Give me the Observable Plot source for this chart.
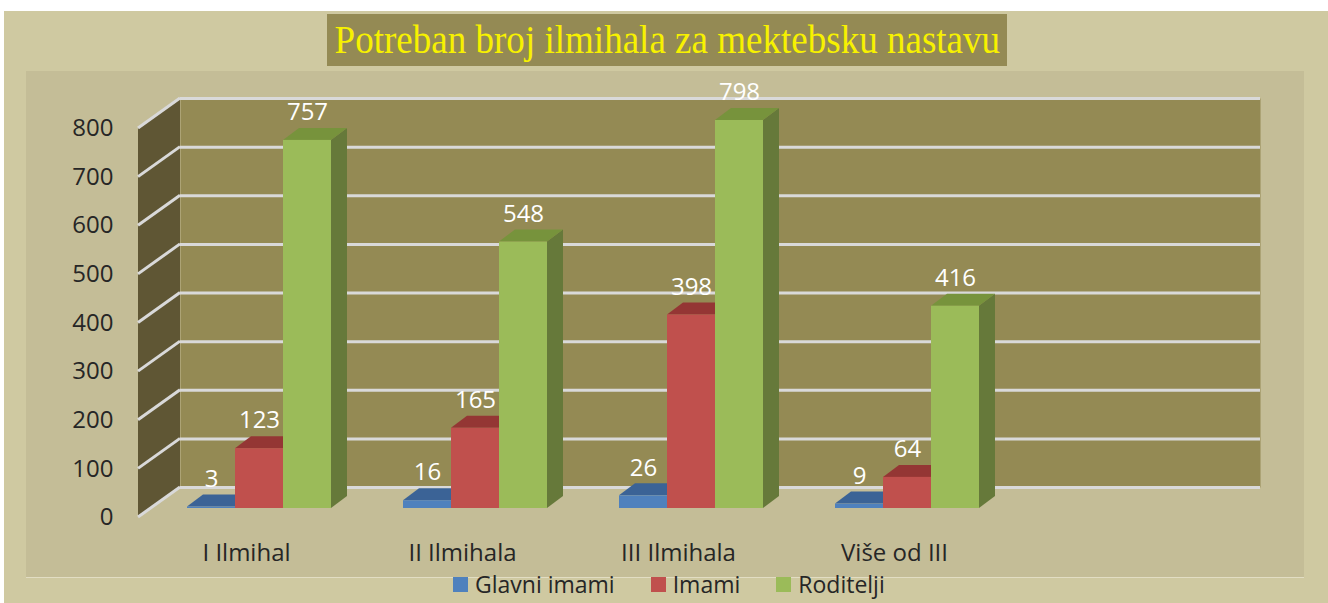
<!DOCTYPE html>
<html>
<head>
<meta charset="utf-8">
<script src="https://cdn.jsdelivr.net/npm/d3@7"></script>
<script src="https://cdn.jsdelivr.net/npm/@observablehq/plot@0.6"></script>
<style>
  body { margin: 0; background: #ffffff; }
  #page { position: relative; width: 1328px; height: 603px; overflow: hidden; font-family: "Open Sans", sans-serif; }
  #frame { position: absolute; left: 4px; top: 11px; right: 0; bottom: 0; background: #cfc9a1; }
  #panel { position: absolute; left: 26px; top: 71px; width: 1278px; height: 506px; background: #c4bd97; border-bottom: 1px solid #e2ddc3; }
  #title { position: absolute; left: 327px; top: 14px; width: 680px; height: 52px; background: #948a54;
           display: flex; justify-content: center; align-items: flex-start;
           font-family: "Liberation Serif", "Times New Roman", serif; font-size: 40px; line-height: 52px; color: #f7f100; white-space: nowrap; }
  #title span { display: inline-block; flex: none; transform: scaleX(0.926); transform-origin: center; }
  #chart { position: absolute; left: 0; top: 71px; width: 1328px; }
  #legend { position: absolute; left: 453px; top: 572px; display: flex; align-items: center; font-size: 23px; line-height: 24px; color: #262626; }
  #legend .item { display: flex; align-items: center; margin-right: 36px; }
  #legend .sw { width: 15px; height: 15px; margin-right: 7px; }
</style>
</head>
<body>
<div id="page">
  <div id="frame"></div>
  <div id="panel"></div>
  <div id="title"><span>Potreban broj ilmihala za mektebsku nastavu</span></div>
  <div id="chart"></div>
  <div id="legend"></div>
</div>
<script>
// ---- data ----
const categories = ["I Ilmihal", "II Ilmihala", "III Ilmihala", "Više od III"];
const series = ["Glavni imami", "Imami", "Roditelji"];
const glavniImami = [3, 16, 26, 9];
const imami = [123, 165, 398, 64];
const roditelji = [757, 548, 798, 416];
const yTicks = [0, 100, 200, 300, 400, 500, 600, 700, 800];

// ---- styles ----
const frontColors = ["#4f81bd", "#c0504d", "#9bbb59"];
const topColors = ["#3b6396", "#943634", "#77933c"];
const sideColors = ["#385d8a", "#8b3532", "#66793a"];

const valuesBySeries = [glavniImami, imami, roditelji];
const rows = series.flatMap((s, si) =>
  categories.map((c, ci) => ({category: c, series: s, si, value: valuesBySeries[si][ci]})));

const W = 1328, H = 507, ML = 138, MR = 110, MT = 57, MB = 61;
const xDomain = [...categories, ""];           // one empty slot on the right, as in the original
const band = (W - ML - MR) / xDomain.length;
const WALL = {dx: 42, dy: 30};
const BAR = {w: 48, inset: 36, dx: 13, dy: 9, depthX: 16, depthY: 12};
const GRID = "#d9d9d9";

function barOpts(si) {
  const left = BAR.inset + BAR.w * si;
  return {insetLeft: left, insetRight: band - left - BAR.w, dx: BAR.dx, dy: -BAR.dy};
}

// side wall (left) with its diagonal grid lines
function sideWall(index, scales) {
  const {x, y} = scales;
  const g = d3.create("svg:g");
  const x0 = x(categories[0]);
  const pts = [[x0, y(0)], [x0, y(800)], [x0 + WALL.dx, y(800) - WALL.dy], [x0 + WALL.dx, y(0) - WALL.dy]];
  g.append("polygon").attr("points", pts.join(" ")).attr("fill", "#5f5634");
  for (const t of yTicks) {
    g.append("line")
      .attr("x1", x0).attr("y1", y(t))
      .attr("x2", x0 + WALL.dx).attr("y2", y(t) - WALL.dy)
      .attr("stroke", GRID).attr("stroke-width", 3);
  }
  return g.node();
}

// top + side faces of the bars of one series
function faces(si) {
  return (index, scales) => {
    const {x, y} = scales;
    const g = d3.create("svg:g");
    for (const r of rows.filter(r => r.si === si)) {
      const xl = x(r.category) + BAR.inset + BAR.w * si + BAR.dx, xr = xl + BAR.w;
      const yt = y(r.value) - BAR.dy, yb = y(0) - BAR.dy;
      const dX = BAR.depthX, dY = BAR.depthY;
      g.append("polygon").attr("points", [[xr, yt], [xr + dX, yt - dY], [xr + dX, yb - dY], [xr, yb]].join(" "))
        .attr("fill", sideColors[si]);
      g.append("polygon").attr("points", [[xl, yt], [xr, yt], [xr + dX, yt - dY], [xl + dX, yt - dY]].join(" "))
        .attr("fill", topColors[si]);
    }
    return g.node();
  };
}

const barMarks = series.flatMap((s, si) => [
  faces(si),
  Plot.barY(rows.filter(r => r.si === si), {x: "category", y: "value", fill: frontColors[si], ...barOpts(si)}),
]);

const labelMarks = series.map((s, si) =>
  Plot.text(rows.filter(r => r.si === si), {
    x: "category", y: "value", text: d => String(d.value),
    fill: "#ffffff", fontSize: 24, lineAnchor: "middle",
    dx: BAR.inset + BAR.w * si + BAR.w / 2 + BAR.dx - band / 2, dy: -37
  }));

const chart = Plot.plot({
  width: W, height: H,
  marginLeft: ML, marginRight: MR, marginTop: MT, marginBottom: MB,
  style: {background: "transparent", fontFamily: "'Open Sans', sans-serif", overflow: "visible"},
  x: {type: "band", domain: xDomain, padding: 0, label: null},
  y: {domain: [0, 800], label: null},
  marks: [
    Plot.frame({fill: "#948a54", stroke: "none", dx: WALL.dx, dy: -WALL.dy}),
    Plot.ruleY(yTicks, {stroke: GRID, strokeWidth: 3, dx: WALL.dx, dy: -WALL.dy}),
    sideWall,
    ...barMarks,
    ...labelMarks,
    Plot.axisY({ticks: yTicks, anchor: "left", tickSize: 0, tickPadding: 25, fontSize: 24, fill: "#262626", label: null}),
    Plot.axisX({tickSize: 0, tickPadding: 26, fontSize: 24, fill: "#262626", label: null})
  ]
});
document.getElementById("chart").appendChild(chart);

// legend
const legend = document.getElementById("legend");
series.forEach((s, si) => {
  const item = document.createElement("div");
  item.className = "item";
  const sw = document.createElement("div");
  sw.className = "sw";
  sw.style.background = frontColors[si];
  const label = document.createElement("span");
  label.textContent = s;
  item.appendChild(sw);
  item.appendChild(label);
  legend.appendChild(item);
});
</script>
</body>
</html>
